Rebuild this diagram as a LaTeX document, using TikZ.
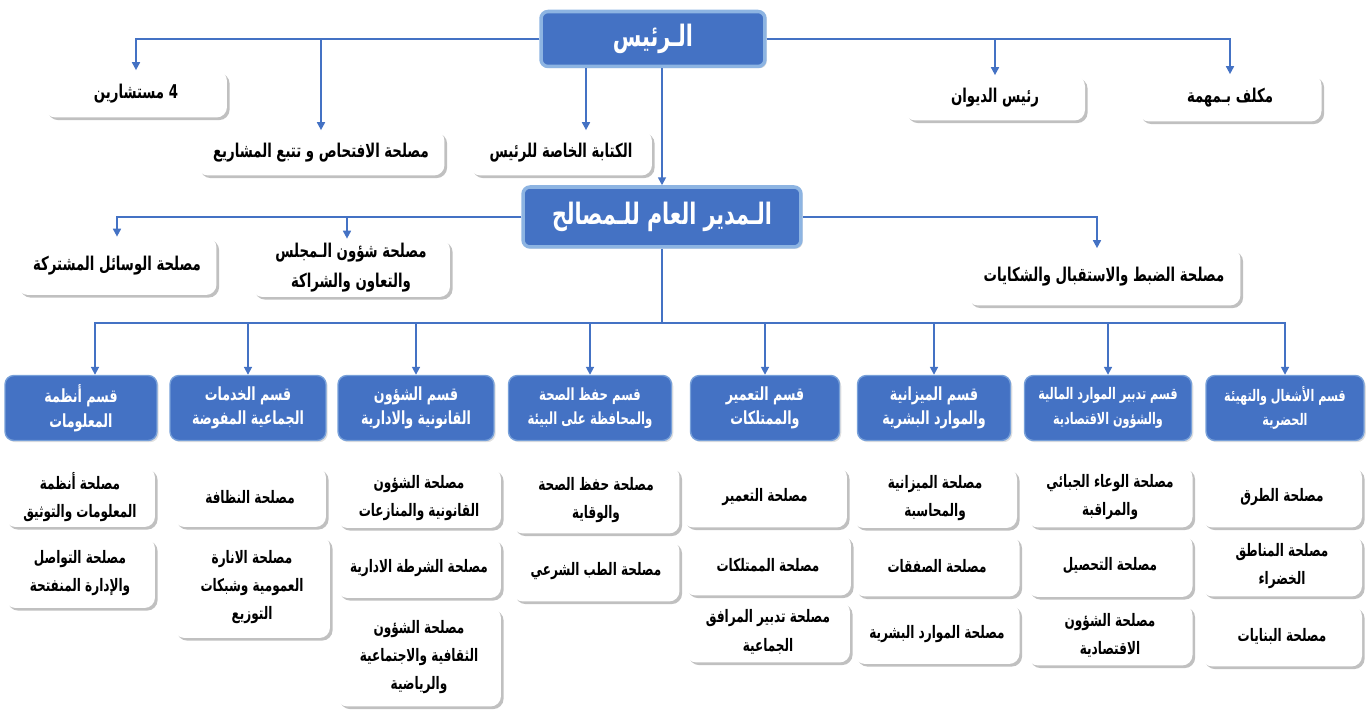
\documentclass[tikz,border=0pt]{standalone}
\usepackage{fontspec}
\usepackage{tikz}
\usetikzlibrary{arrows.meta,shadows}
\newfontfamily\arabicfont[Script=Arabic, FakeStretch=0.7]{DejaVu Sans}
\TeXXeTstate=1
\definecolor{linkblue}{RGB}{68,114,196}
\definecolor{boxblue}{RGB}{68,114,196}
\definecolor{rimblue}{RGB}{141,180,226}
\newcommand{\artxt}[1]{\beginR#1\endR}

\begin{document}
\begin{tikzpicture}[
			x=0.02cm,
			y=-0.02cm,
			>={Triangle[length=4.5pt,width=4.5pt]},
			conn/.style={draw=linkblue, line width=1pt},
			headbox/.style={rounded corners=4pt, fill=boxblue, draw=rimblue,
				line width=2pt, text=white,
				font=\arabicfont\bfseries\fontsize{16.8}{19}\selectfont,
				drop shadow={shadow xshift=1pt, shadow yshift=-1pt, fill=black!40, opacity=0.35}},
			deptbox/.style={rounded corners=5pt, fill=boxblue, draw=rimblue!70!boxblue,
				line width=0.8pt, text=white, align=center, minimum height=1.3cm, inner sep=2pt,
				font=\arabicfont\bfseries\fontsize{10.3}{14}\selectfont,
				drop shadow={shadow xshift=1pt, shadow yshift=-1pt, fill=black!40, opacity=0.3}},
			smalldept/.style={font=\arabicfont\bfseries\fontsize{9.1}{14}\selectfont},
			unitbox/.style={rounded corners=6pt, fill=white, align=center, inner sep=2pt,
				font=\arabicfont\bfseries\fontsize{9.8}{16}\selectfont,
				drop shadow={shadow xshift=1.5pt, shadow yshift=-1.5pt, fill=black!55, opacity=0.45}},
			upperbox/.style={unitbox, font=\arabicfont\bfseries\fontsize{10.8}{17}\selectfont}
		]
			\useasboundingbox (0,0) rectangle (1368,715);

			\node[headbox, minimum width=4.48cm, minimum height=1.1cm] (raees) at (653,39) {\artxt{الـرئيس}};
			\node[upperbox, minimum width=3.64cm, minimum height=0.94cm] (mustashar) at (136,94) {\artxt{4 مستشارين}};
			\node[upperbox, minimum width=4.94cm, minimum height=0.9cm] (iftihas) at (321,153) {\artxt{مصلحة الافتحاص و تتبع المشاريع}};
			\node[upperbox, minimum width=3.64cm, minimum height=0.9cm] (kitaba) at (561,153) {\artxt{الكتابة الخاصة للرئيس}};
			\node[upperbox, minimum width=3.6cm, minimum height=0.9cm] (diwan) at (995,98) {\artxt{رئيس الديوان}};
			\node[upperbox, minimum width=3.66cm, minimum height=0.94cm] (mukallaf) at (1230,98) {\artxt{مكلف بـمهمة}};

			\node[headbox, minimum width=5.56cm, minimum height=1.2cm] (dir) at (662,217) {\artxt{الـمدير العام للـمصالح}};
			\node[upperbox, minimum width=3.98cm, minimum height=1.16cm] (wasail) at (117,266) {\artxt{مصلحة الوسائل المشتركة}};
			\node[upperbox, minimum width=3.96cm, minimum height=1.16cm] (majlis) at (351,268) {\artxt{مصلحة شؤون الـمجلس}\\\artxt{والتعاون والشراكة}};
			\node[upperbox, minimum width=5.46cm, minimum height=1.14cm] (dabt) at (1104,277) {\artxt{مصلحة الضبط والاستقبال والشكايات}};

			\draw[conn, ->] (raees.west) -| (mustashar.north);
			\draw[conn, ->] (raees.west) -| (iftihas.north);
			\draw[conn, ->] (raees.east) -| (mukallaf.north);
			\draw[conn, ->] (raees.east) -| (diwan.north);
			\draw[conn, ->] (raees.south -| 586,0) -- (586,0 |- kitaba.north);
			\draw[conn, ->] (raees.south -| dir.north) -- (dir.north);

			\draw[conn, ->] (dir.west) -| (wasail.north);
			\draw[conn, ->] (dir.west) -| (347,0 |- majlis.north);
			\draw[conn, ->] (dir.east) -| (1097,0 |- dabt.north);

			\node[deptbox, minimum width=3.04cm] (dept1) at (81,408) {\artxt{قسم أنظمة}\\\artxt{المعلومات}};
			\node[deptbox, minimum width=3.12cm] (dept2) at (248,408) {\artxt{قسم الخدمات}\\\artxt{الجماعية المفوضة}};
			\node[deptbox, minimum width=3.12cm] (dept3) at (416,408) {\artxt{قسم الشؤون}\\\artxt{القانونية والادارية}};
			\node[deptbox, minimum width=3.26cm, font=\arabicfont\bfseries\fontsize{9.5}{14}\selectfont] (dept4) at (590,408) {\artxt{قسم حفظ الصحة}\\\artxt{والمحافظة على البيئة}};
			\node[deptbox, minimum width=2.98cm] (dept5) at (765,408) {\artxt{قسم التعمير}\\\artxt{والممتلكات}};
			\node[deptbox, minimum width=3.06cm] (dept6) at (934,408) {\artxt{قسم الميزانية}\\\artxt{والموارد البشرية}};
			\node[deptbox, smalldept, minimum width=3.34cm] (dept7) at (1108,408) {\artxt{قسم تدبير الموارد المالية}\\\artxt{والشؤون الاقتصادية}};
			\node[deptbox, smalldept, minimum width=3.16cm] (dept8) at (1285,408) {\artxt{قسم الأشغال والتهيئة}\\\artxt{الحضرية}};

			\coordinate (bus) at (dir.south |- 0,323);
			\draw[conn] (dir.south) -- (bus);
			\draw[conn, ->] (bus) -| (95,0 |- dept1.north);
			\draw[conn, ->] (bus) -| (dept2.north);
			\draw[conn, ->] (bus) -| (dept3.north);
			\draw[conn, ->] (bus) -| (dept4.north);
			\draw[conn, ->] (bus) -| (dept5.north);
			\draw[conn, ->] (bus) -| (dept6.north);
			\draw[conn, ->] (bus) -| (dept7.north);
			\draw[conn, ->] (bus) -| (dept8.north);

			\node[unitbox, minimum width=3.0cm, minimum height=1.2cm] (u1a) at (80,497) {\artxt{مصلحة أنظمة}\\\artxt{المعلومات والتوثيق}};
			\node[unitbox, minimum width=3.0cm, minimum height=1.4cm] (u1b) at (80,573) {\artxt{مصلحة التواصل}\\\artxt{والإدارة المنفتحة}};
			\node[unitbox, minimum width=3.04cm, minimum height=1.2cm] (u2a) at (250,497) {\artxt{مصلحة النظافة}};
			\node[unitbox, minimum width=3.12cm, minimum height=2.04cm] (u2b) at (252,587) {\artxt{مصلحة الانارة}\\\artxt{العمومية وشبكات}\\\artxt{التوزيع}};
			\node[unitbox, minimum width=3.28cm, minimum height=1.2cm] (u3a) at (419,498) {\artxt{مصلحة الشؤون}\\\artxt{القانونية والمنازعات}};
			\node[unitbox, minimum width=3.28cm, minimum height=1.2cm] (u3b) at (419,568) {\artxt{مصلحة الشرطة الادارية}};
			\node[unitbox, minimum width=3.28cm, minimum height=1.98cm] (u3c) at (419,657) {\artxt{مصلحة الشؤون}\\\artxt{الثقافية والاجتماعية}\\\artxt{والرياضية}};
			\node[unitbox, minimum width=3.34cm, minimum height=1.34cm] (u4a) at (596,500) {\artxt{مصلحة حفظ الصحة}\\\artxt{والوقاية}};
			\node[unitbox, minimum width=3.34cm, minimum height=1.22cm] (u4b) at (596,571) {\artxt{مصلحة الطب الشرعي}};
			\node[unitbox, minimum width=3.28cm, minimum height=1.22cm] (u5a) at (765,497) {\artxt{مصلحة التعمير}};
			\node[unitbox, minimum width=3.32cm, minimum height=1.22cm] (u5b) at (768,565) {\artxt{مصلحة الممتلكات}};
			\node[unitbox, minimum width=3.28cm, minimum height=1.22cm] (u5c) at (768,632) {\artxt{مصلحة تدبير المرافق}\\\artxt{الجماعية}};
			\node[unitbox, minimum width=3.28cm, minimum height=1.2cm] (u6a) at (935,498) {\artxt{مصلحة الميزانية}\\\artxt{والمحاسبة}};
			\node[unitbox, minimum width=3.3cm, minimum height=1.22cm] (u6b) at (937,566) {\artxt{مصلحة الصفقات}};
			\node[unitbox, minimum width=3.3cm, minimum height=1.2cm] (u6c) at (937,634) {\artxt{مصلحة الموارد البشرية}};
			\node[unitbox, minimum width=3.3cm, minimum height=1.22cm] (u7a) at (1110,497) {\artxt{مصلحة الوعاء الجبائي}\\\artxt{والمراقبة}};
			\node[unitbox, minimum width=3.3cm, minimum height=1.24cm] (u7b) at (1110,566) {\artxt{مصلحة التحصيل}};
			\node[unitbox, minimum width=3.3cm, minimum height=1.22cm] (u7c) at (1110,635) {\artxt{مصلحة الشؤون}\\\artxt{الاقتصادية}};
			\node[unitbox, minimum width=3.2cm, minimum height=1.22cm] (u8a) at (1282,497) {\artxt{مصلحة الطرق}};
			\node[unitbox, minimum width=3.2cm, minimum height=1.22cm] (u8b) at (1282,566) {\artxt{مصلحة المناطق}\\\artxt{الخضراء}};
			\node[unitbox, minimum width=3.2cm, minimum height=1.22cm] (u8c) at (1282,636) {\artxt{مصلحة البنايات}};
		\end{tikzpicture}
\end{document}
